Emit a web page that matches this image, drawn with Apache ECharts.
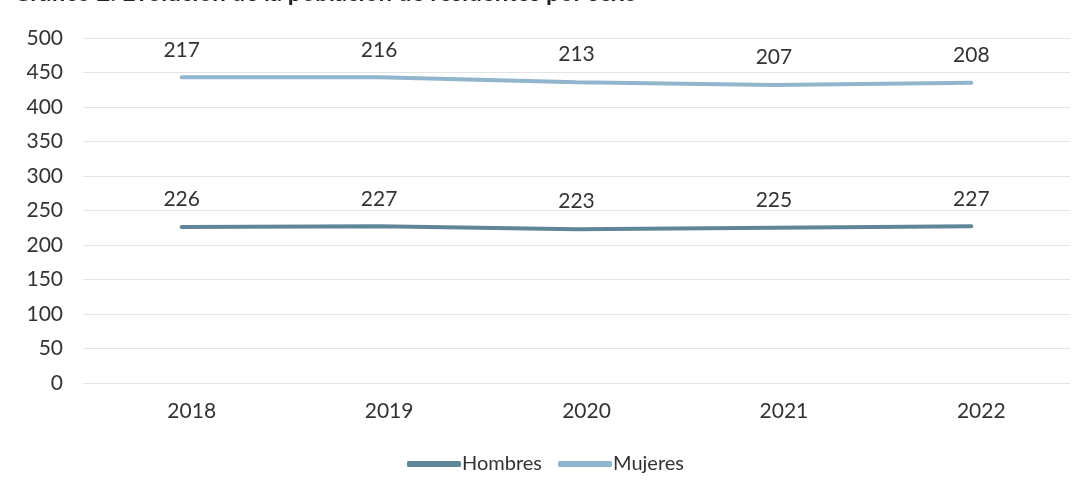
<!DOCTYPE html>
<html>
<head>
<meta charset="utf-8">
<script src="https://cdn.jsdelivr.net/npm/echarts@6/dist/echarts.min.js"></script>
<style>html,body{margin:0;padding:0;background:#fff;}#c{width:1091px;height:495px;}</style>
</head>
<body>
<div id="c"></div>
<script>
const categories = ['2018', '2019', '2020', '2021', '2022'];
const hombres = [226, 227, 223, 225, 227];
const mujeres = [217, 216, 213, 207, 208];
const yTicks = [0, 50, 100, 150, 200, 250, 300, 350, 400, 450, 500];

const chart = echarts.init(document.getElementById('c'), null, {renderer: 'canvas'});
const font = 'Lato, "Open Sans", sans-serif';
const labelStyle = {show: true, position: 'top', distance: 17, color: '#333', fontSize: 21, fontFamily: font};
chart.setOption({
  backgroundColor: '#fff',
  animation: false,
  title: {
    text: 'Gráfico 2. Evolución de la población de residentes por sexo',
    left: 8, top: -24,
    textStyle: {fontSize: 24, fontWeight: 'bold', color: '#222', fontFamily: font}
  },
  grid: {left: 83, right: 21, top: 38, bottom: 112},
  legend: {
    bottom: 16, left: 'center',
    itemWidth: 54, itemHeight: 6, itemGap: 16,
    icon: 'roundRect',
    textStyle: {fontSize: 20, color: '#333', fontFamily: font, padding: [0, 0, 0, -4]},
    data: ['Hombres', 'Mujeres']
  },
  xAxis: {
    type: 'category', data: categories, boundaryGap: true,
    axisLine: {show: false}, axisTick: {show: false},
    axisLabel: {color: '#333', fontSize: 21, fontFamily: font, margin: 18, padding: [0, 0, 0, 20]}
  },
  yAxis: {
    type: 'value', min: yTicks[0], max: yTicks[yTicks.length - 1], interval: 50,
    axisLine: {show: false}, axisTick: {show: false},
    axisLabel: {color: '#333', fontSize: 21, fontFamily: font, margin: 20},
    splitLine: {lineStyle: {color: '#e4e4e4', width: 1}}
  },
  series: [
    {
      name: 'Hombres', type: 'line', stack: 'total', data: hombres,
      symbol: 'circle', symbolSize: 0.1, showSymbol: true,
      lineStyle: {width: 4, color: '#5e8696', cap: 'round'},
      itemStyle: {color: '#5e8696'},
      label: labelStyle
    },
    {
      name: 'Mujeres', type: 'line', stack: 'total', data: mujeres,
      symbol: 'circle', symbolSize: 0.1, showSymbol: true,
      lineStyle: {width: 4, color: '#91b5cc', cap: 'round'},
      itemStyle: {color: '#91b5cc'},
      label: labelStyle
    }
  ]
});
</script>
</body>
</html>
